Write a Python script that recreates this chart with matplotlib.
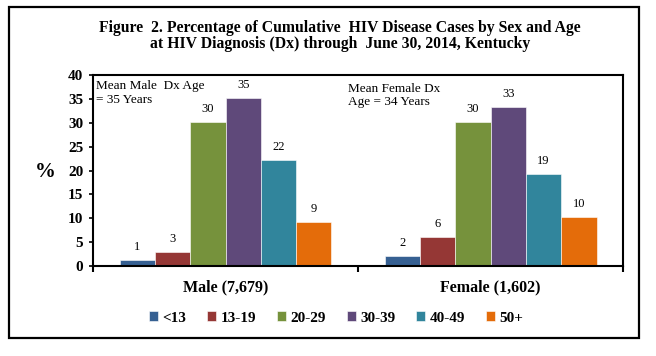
import matplotlib
matplotlib.use('Agg')
import matplotlib.pyplot as plt
import numpy as np
from matplotlib.patches import Rectangle

# data
groups = ['Male (7,679)', 'Female (1,602)']
age_groups = ['<13', '13-19', '20-29', '30-39', '40-49', '50+']
male_pct = [1.2, 3.0, 30.2, 35.2, 22.1, 9.2]
female_pct = [2.1, 6.1, 30.2, 33.2, 19.2, 10.3]
male_labels = ['1', '3', '30', '35', '22', '9']
female_labels = ['2', '6', '30', '33', '19', '10']
colors = ['#366092', '#953735', '#76923C', '#5F497A', '#31859C', '#E46C0A']

plt.rcParams['font.family'] = ['Liberation Serif', 'DejaVu Serif']

fig = plt.figure(figsize=(6.56, 3.56), dpi=100)
ax = fig.add_axes([93 / 656, 1 - 266 / 356, (623 - 93) / 656, (266 - 75) / 356])

# outer frame
fig.patches.append(Rectangle((9 / 656, 1 - 338 / 356), (639 - 9) / 656, (338 - 7) / 356,
                             transform=fig.transFigure, fill=False, edgecolor='black',
                             linewidth=1.6))

x = np.arange(len(groups))
width = 0.8 / len(age_groups)
values = np.array([male_pct, female_pct])
labels = [male_labels, female_labels]
for i, age in enumerate(age_groups):
    xpos = x - 0.4 + width * (i + 0.5)
    bars = ax.bar(xpos, values[:, i], width, color=colors[i], edgecolor='white',
                  linewidth=0.4, label=age)
    for j, b in enumerate(bars):
        ax.text(b.get_x() + b.get_width() / 2, b.get_height() + 1.5, labels[j][i],
                ha='center', va='bottom', fontsize=9)

ax.set_xlim(-0.5, 1.5)
ax.set_ylim(0, 40)
ax.set_yticks(range(0, 41, 5))
ax.set_xticks([-0.5, 0.5, 1.5])
ax.set_xticklabels([])
ax.tick_params(axis='x', length=4, width=1.5, direction='out')
ax.tick_params(axis='y', length=3, width=1.2, direction='out', labelsize=11, pad=4)
for lab in ax.get_yticklabels():
    lab.set_fontweight('bold')
for s in ax.spines.values():
    s.set_linewidth(1.5)

for xi, g in zip(x, groups):
    ax.text(xi, -2.8, g, ha='center', va='top', fontsize=11.5, fontweight='bold')

ax.text(-0.49, 38.9, 'Mean Male  Dx Age\n= 35 Years', ha='left', va='top', fontsize=9.5,
        linespacing=1.15)
ax.text(0.462, 38.4, 'Mean Female Dx\nAge = 34 Years', ha='left', va='top', fontsize=9.5,
        linespacing=1.15)

fig.text(45 / 656, 1 - 172 / 356, '%', ha='center', va='center', fontsize=15,
         fontweight='bold')

fig.text(340 / 656, 1 - 36 / 356,
         'Figure  2. Percentage of Cumulative  HIV Disease Cases by Sex and Age\n'
         'at HIV Diagnosis (Dx) through  June 30, 2014, Kentucky',
         ha='center', va='center', fontsize=11.3, fontweight='bold', linespacing=1.05)

leg = fig.legend(loc='center', bbox_to_anchor=(336 / 656, 1 - 318 / 356), ncol=6,
                 frameon=False, handlelength=0.6, handleheight=0.6, handletextpad=0.3,
                 columnspacing=1.35, prop={'weight': 'bold', 'size': 11})

fig.savefig('out.png', dpi=100)
